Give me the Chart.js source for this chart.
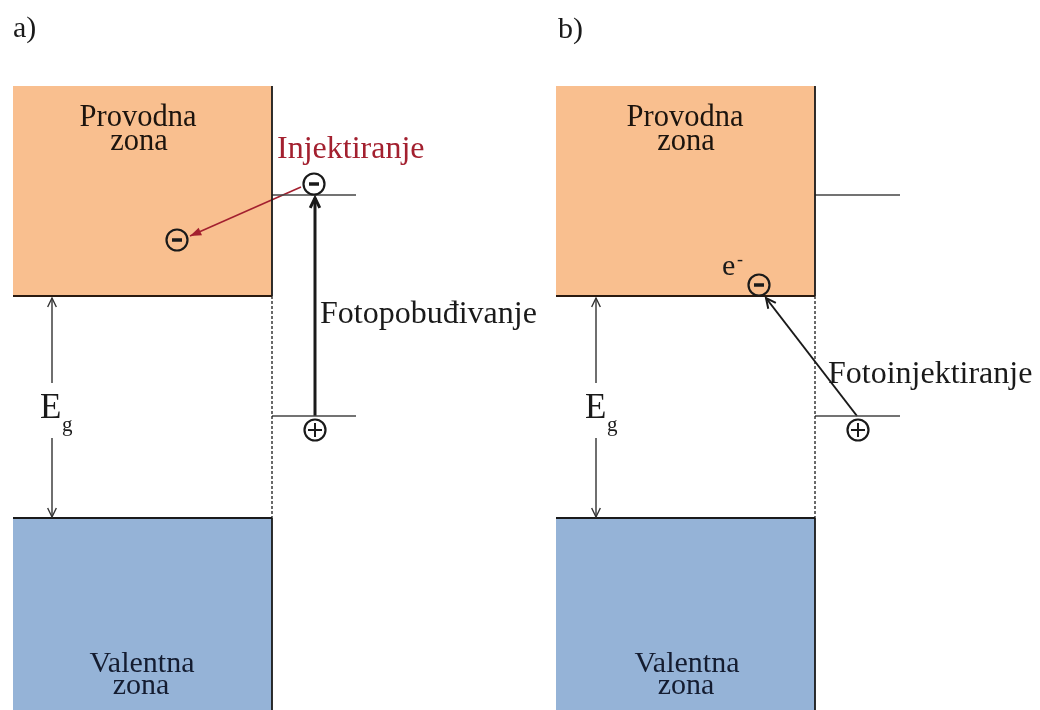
<!DOCTYPE html>
<html>
<head>
<meta charset="utf-8">
<script src="https://cdn.jsdelivr.net/npm/chart.js@4.4.1/dist/chart.umd.min.js"></script>
<style>
html, body { margin: 0; padding: 0; background: #fff; }
#wrap { width: 1040px; height: 710px; position: relative; }
</style>
</head>
<body>
<div id="wrap"><canvas id="bands"></canvas></div>
<script>
// Zonski dijagram: a) fotopobuđivanje + injektiranje, b) fotoinjektiranje
// jedinice su položaji na slici, y os je obrnuta (energija raste prema gore)

const panelNames = ['a)', 'b)'];
const bandLeft = [13, 556];
const bandRight = [272, 815];
const conductionTop = 86;
const conductionEdge = 296;
const valenceEdge = 518;
const valenceBottom = 712;
const levelEnd = [356, 900];
const lumo = 195;
const homo = 416;
const egArrowX = [52, 596];
const egGap = [383, 438];
const electrons = [{x: 314, y: 184}, {x: 177, y: 240}, {x: 759, y: 285}];
const holes = [{x: 315, y: 430}, {x: 858, y: 430}];
const excitation = [{x: 315, y: 416}, {x: 315, y: 198}];
const injection = [{x: 301, y: 187}, {x: 190, y: 236}];
const photoinjection = [{x: 857, y: 416}, {x: 766, y: 298}];

const ORANGE = '#F9BF8F';
const BLUE = '#95B3D7';
const INK = '#1a1a1a';
const RED = '#A3202F';

const datasets = [];

function seg(points, style) {
    datasets.push(Object.assign({
        type: 'line',
        data: points,
        borderColor: INK,
        borderWidth: 1.8,
        pointRadius: 0,
        fill: false,
        tension: 0,
        order: 2
    }, style || {}));
}

// zone i nivoi za oba panela
for (let i = 0; i < 2; i++) {
    const L = bandLeft[i], R = bandRight[i];
    // provodna zona
    seg([{x: L, y: conductionTop}, {x: R, y: conductionTop}], {
        fill: {value: conductionEdge}, backgroundColor: ORANGE, borderWidth: 0, order: 3
    });
    // valentna zona
    seg([{x: L, y: valenceEdge}, {x: R, y: valenceEdge}], {
        fill: {value: valenceBottom}, backgroundColor: BLUE, borderWidth: 0, order: 3
    });
    seg([{x: L, y: conductionEdge}, {x: R, y: conductionEdge}], {borderColor: '#2a1a10'});
    seg([{x: R, y: conductionTop}, {x: R, y: conductionEdge}]);
    seg([{x: R, y: conductionEdge}, {x: R, y: valenceEdge}], {borderDash: [3, 2], borderWidth: 1.3});
    seg([{x: L, y: valenceEdge}, {x: R, y: valenceEdge}]);
    seg([{x: R, y: valenceEdge}, {x: R, y: valenceBottom}]);
    // nivoi boje
    seg([{x: R, y: lumo}, {x: levelEnd[i], y: lumo}], {borderColor: '#444', borderWidth: 1.4});
    seg([{x: R, y: homo}, {x: levelEnd[i], y: homo}], {borderColor: '#444', borderWidth: 1.4});
    // Eg strelica
    seg([{x: egArrowX[i], y: conductionEdge + 2}, {x: egArrowX[i], y: egGap[0]}], {arrow: 'start', borderWidth: 1.4, borderColor: '#333'});
    seg([{x: egArrowX[i], y: egGap[1]}, {x: egArrowX[i], y: valenceEdge - 1}], {arrow: 'end', borderWidth: 1.4, borderColor: '#333'});
}

seg(excitation, {arrow: 'end', borderWidth: 3, headLength: 11});
seg(injection, {arrow: 'end', borderColor: RED, borderWidth: 1.6, headFilled: true, headLength: 12});
seg(photoinjection, {arrow: 'end', borderWidth: 2, headLength: 11});

// elektroni i šupljine
const carriers = electrons.concat(holes);
datasets.push({
    type: 'line', data: carriers, showLine: false, order: 0,
    pointStyle: 'circle', pointRadius: 10.5, pointBorderWidth: 2.2,
    pointBorderColor: INK, pointBackgroundColor: 'rgba(0,0,0,0)'
});
datasets.push({
    type: 'line', data: electrons, showLine: false, order: 0,
    pointStyle: 'line', pointRadius: 5, pointBorderWidth: 3.5, pointBorderColor: INK
});
datasets.push({
    type: 'line', data: holes, showLine: false, order: 0,
    pointStyle: 'cross', pointRadius: 7, pointBorderWidth: 2, pointBorderColor: INK
});

const SERIF = '"Liberation Serif", "DejaVu Serif", serif';
const CB_TEXT = '#1c140e';
const VB_TEXT = '#141c30';
const texts = [
    {t: panelNames[0], x: 13, y: 37, size: 30},
    {t: panelNames[1], x: 558, y: 38, size: 30},
    {t: 'Provodna', x: 138, y: 126, size: 30.5, align: 'center', color: CB_TEXT},
    {t: 'zona', x: 139, y: 150, size: 30.5, align: 'center', color: CB_TEXT},
    {t: 'Provodna', x: 685, y: 126, size: 30.5, align: 'center', color: CB_TEXT},
    {t: 'zona', x: 686, y: 150, size: 30.5, align: 'center', color: CB_TEXT},
    {t: 'Valentna', x: 142, y: 672, size: 30, align: 'center', color: VB_TEXT},
    {t: 'zona', x: 141, y: 694, size: 30, align: 'center', color: VB_TEXT},
    {t: 'Valentna', x: 687, y: 672, size: 30, align: 'center', color: VB_TEXT},
    {t: 'zona', x: 686, y: 694, size: 30, align: 'center', color: VB_TEXT},
    {t: 'Injektiranje', x: 277, y: 158, size: 32, color: RED},
    {t: 'Fotopobuđivanje', x: 320, y: 323, size: 32},
    {t: 'Fotoinjektiranje', x: 828, y: 383, size: 32},
    {t: 'E', x: 40, y: 418, size: 35},
    {t: 'g', x: 62, y: 431, size: 21},
    {t: 'E', x: 585, y: 418, size: 35},
    {t: 'g', x: 607, y: 431, size: 21},
    {t: 'e', x: 722, y: 275, size: 30},
    {t: '-', x: 737, y: 265, size: 18}
];

const annotate = {
    id: 'annotate',
    afterDatasetsDraw(chart) {
        const ctx = chart.ctx;
        const sx = chart.scales.x, sy = chart.scales.y;

        // vrhovi strelica
        chart.data.datasets.forEach((ds, i) => {
            if (!ds.arrow) return;
            const pts = chart.getDatasetMeta(i).data;
            const tip = ds.arrow === 'start' ? pts[0] : pts[pts.length - 1];
            const tail = ds.arrow === 'start' ? pts[1] : pts[pts.length - 2];
            const ang = Math.atan2(tip.y - tail.y, tip.x - tail.x);
            const len = ds.headLength || 10;
            const spread = ds.headFilled ? 0.35 : 0.45;
            ctx.save();
            ctx.strokeStyle = ds.borderColor;
            ctx.fillStyle = ds.borderColor;
            ctx.lineWidth = ds.borderWidth;
            ctx.lineJoin = 'miter';
            ctx.beginPath();
            ctx.moveTo(tip.x - len * Math.cos(ang - spread), tip.y - len * Math.sin(ang - spread));
            ctx.lineTo(tip.x, tip.y);
            ctx.lineTo(tip.x - len * Math.cos(ang + spread), tip.y - len * Math.sin(ang + spread));
            if (ds.headFilled) {
                ctx.closePath();
                ctx.fill();
            } else {
                ctx.stroke();
            }
            ctx.restore();
        });

        // tekstovi
        ctx.save();
        ctx.textBaseline = 'alphabetic';
        texts.forEach(item => {
            ctx.font = item.size + 'px ' + SERIF;
            ctx.fillStyle = item.color || INK;
            ctx.textAlign = item.align || 'left';
            ctx.fillText(item.t, sx.getPixelForValue(item.x), sy.getPixelForValue(item.y));
        });
        ctx.restore();
    }
};

new Chart(document.getElementById('bands'), {
    type: 'line',
    data: {datasets: datasets},
    options: {
        responsive: true,
        maintainAspectRatio: false,
        animation: false,
        layout: {padding: 0, autoPadding: false},
        plugins: {
            legend: {display: false},
            tooltip: {enabled: false}
        },
        scales: {
            x: {type: 'linear', min: 0, max: 1040, display: false},
            y: {type: 'linear', min: 0, max: 710, reverse: true, display: false}
        }
    },
    plugins: [annotate]
});
</script>
</body>
</html>
